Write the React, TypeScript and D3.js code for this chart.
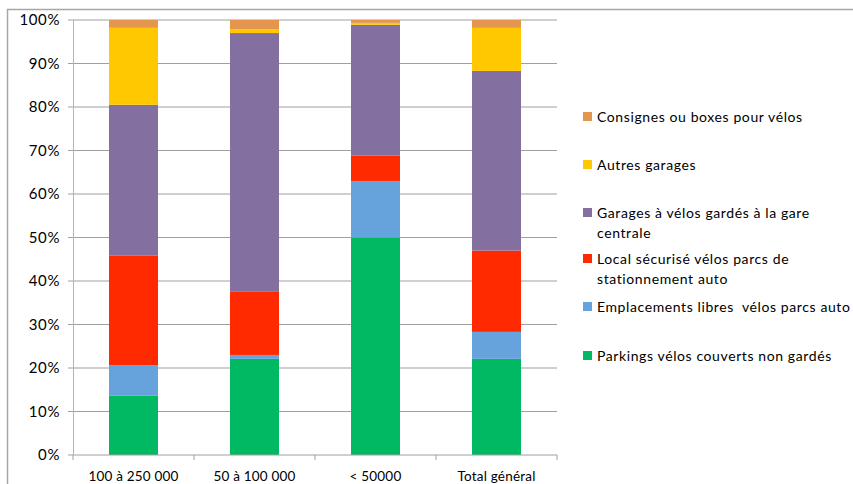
import React from "react";
import * as d3 from "d3";

const categories = ["100 à 250 000", "50 à 100 000", "< 50000", "Total général"];
const seriesNames = [
  "Parkings vélos couverts non gardés",
  "Emplacements libres  vélos parcs auto",
  "Local sécurisé vélos parcs de stationnement auto",
  "Garages à vélos gardés à la gare centrale",
  "Autres garages",
  "Consignes ou boxes pour vélos",
];
const parkings = [13.6, 22.1, 50.0, 22.1];
const emplacements = [7.0, 0.9, 13.0, 6.2];
const local = [25.2, 14.5, 5.8, 18.7];
const garagesGare = [34.7, 59.5, 30.1, 41.3];
const autres = [17.7, 0.9, 0.45, 9.9];
const consignes = [1.8, 2.1, 0.65, 1.8];
const yTicks = [0, 10, 20, 30, 40, 50, 60, 70, 80, 90, 100];
const legendLines = [
  ["Consignes ou boxes pour vélos"],
  ["Autres garages"],
  ["Garages à vélos gardés à la gare", "centrale"],
  ["Local sécurisé vélos parcs de", "stationnement auto"],
  ["Emplacements libres  vélos parcs auto"],
  ["Parkings vélos couverts non gardés"],
];
const legendColors = ["#E4964E", "#FFC800", "#8470A0", "#FF2A00", "#66A3DD", "#00B962"];
const colors = ["#00B962", "#66A3DD", "#FF2A00", "#8470A0", "#FFC800", "#E4964E"];

export default function App() {
  const W = 853, H = 484;
  const left = 73, right = 557, top = 20, bottom = 455;
  const font = "Lato, 'Noto Sans', sans-serif";
  const x = d3.scaleBand().domain(categories).range([left, right]).paddingInner(0.595).paddingOuter(0.2975);
  const y = d3.scaleLinear().domain([0, 100]).range([bottom, top]);
  const series = [parkings, emplacements, local, garagesGare, autres, consignes];
  const rows = categories.map((c, i) => {
    const o: any = { cat: c };
    series.forEach((s, j) => (o["s" + j] = s[i]));
    return o;
  });
  const stack = d3.stack().keys(series.map((_, j) => "s" + j))(rows as any);
  const step = (right - left) / categories.length;
  const legendY = [117, 165, 213, 259, 307, 356];
  return (
    <svg width={W} height={H} style={{ position: "absolute", left: 0, top: 0, background: "#fff" }}>
      <rect x={0} y={0} width={W} height={H} fill="#fff" />
      <line x1={7} y1={9.5} x2={W} y2={9.5} stroke="#A6A6A6" strokeWidth={1.5} />
      <line x1={7.5} y1={9} x2={7.5} y2={H} stroke="#A6A6A6" strokeWidth={1.5} />
      {yTicks.map((t) => (
        <g key={t}>
          {t > 0 && <line x1={left} x2={right} y1={y(t)} y2={y(t)} stroke="#A0A0A0" strokeWidth={1} />}
          <line x1={left - 5} x2={left} y1={y(t)} y2={y(t)} stroke="#A0A0A0" />
          <text x={60} y={y(t) + 5} textAnchor="end" fontFamily={font} fontSize={15} fill="#000" letterSpacing={0.6}>
            {t}%
          </text>
        </g>
      ))}
      {stack.map((layer, j) => (
        <g key={j} fill={colors[j]}>
          {layer.map((d: any, i: number) => (
            <rect key={i} x={x(categories[i])} width={x.bandwidth()} y={y(d[1])} height={y(d[0]) - y(d[1])} />
          ))}
        </g>
      ))}
      <line x1={left} x2={right} y1={bottom} y2={bottom} stroke="#A0A0A0" />
      <line x1={left + 0.5} x2={left + 0.5} y1={top} y2={bottom} stroke="#BDB0B0" />
      {d3.range(categories.length + 1).map((i) => (
        <line key={i} x1={left + i * step} x2={left + i * step} y1={bottom} y2={bottom + 5} stroke="#A0A0A0" />
      ))}
      {categories.map((c) => (
        <text key={c} x={(x(c) as number) + x.bandwidth() / 2} y={481} textAnchor="middle" fontFamily={font} fontSize={13.5} fill="#000" letterSpacing={0.2}>
          {c}
        </text>
      ))}
      {legendLines.map((lines, i) => (
        <g key={i}>
          <rect x={583} y={legendY[i] - 5} width={9} height={9} fill={legendColors[i]} />
          {lines.map((l, k) => (
            <text key={k} x={597} y={legendY[i] + 4.5 + k * 20} fontFamily={font} fontSize={14} fill="#000" letterSpacing={0.6} style={{ whiteSpace: "pre" }}>
              {l}
            </text>
          ))}
        </g>
      ))}
    </svg>
  );
}
